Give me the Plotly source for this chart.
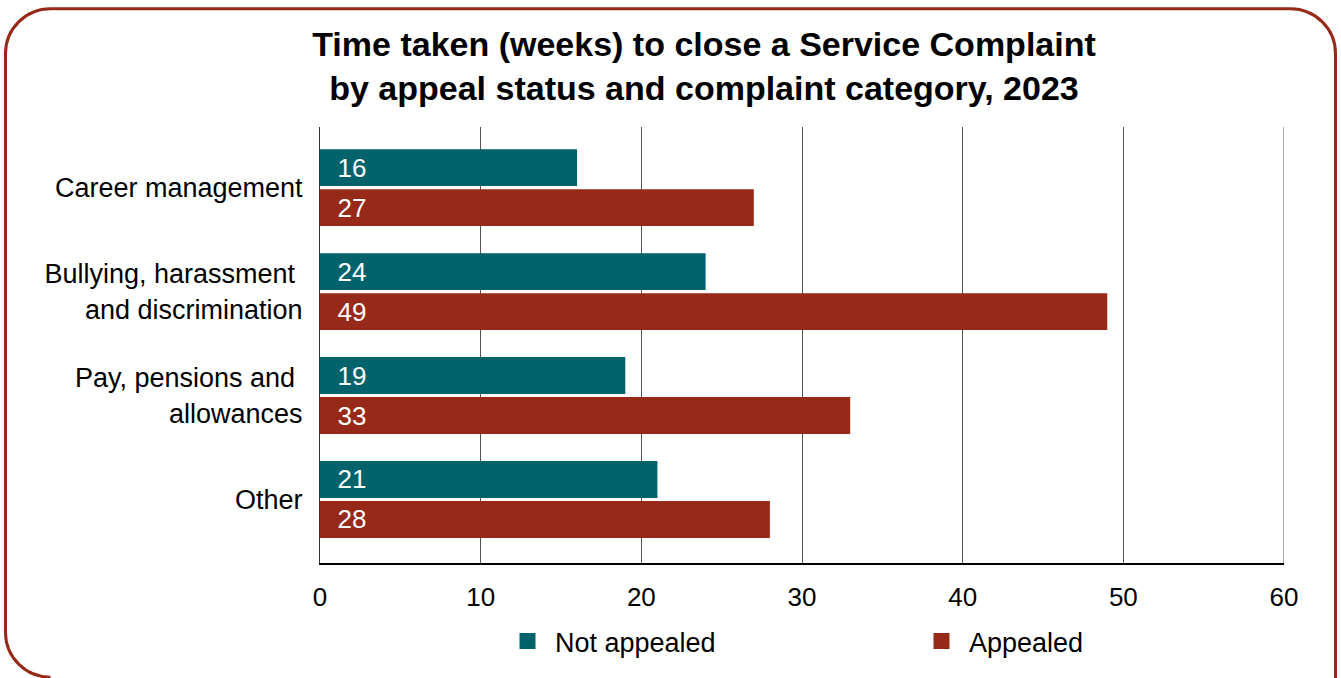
import plotly.graph_objects as go

# Complaint categories (top to bottom) and mean weeks to close
categories = [
    "Career management",
    "Bullying, harassment\u00a0<br>and discrimination",
    "Pay, pensions and\u00a0<br>allowances",
    "Other",
]
not_appealed = [16, 24, 19, 21]
appealed = [27, 49, 33, 28]
x_ticks = [0, 10, 20, 30, 40, 50, 60]

TEAL = "#00636B"
RED = "#962918"
GRID = "#555555"
FONT = "Liberation Sans, Arial, Helvetica, sans-serif"

W, H = 1341, 678
M_L, M_R, M_T, M_B = 320, 57, 127, 112
PW, PH = W - M_L - M_R, H - M_T - M_B


def to_paper(px, py):
    """Convert page pixel coordinates into paper coordinates of the plot area."""
    return (px - M_L) / PW, (H - M_B - py) / PH


def rounded_frame(left, top, right, bottom, r):
    k = 0.5523 * r
    pts = [
        ("M", [(left, top + r)]),
        ("C", [(left, top + r - k), (left + r - k, top), (left + r, top)]),
        ("L", [(right - r, top)]),
        ("C", [(right - r + k, top), (right, top + r - k), (right, top + r)]),
        ("L", [(right, bottom + 30)]),
        ("M", [(left + r, bottom)]),
        ("C", [(left + r - k, bottom), (left, bottom - r + k), (left, bottom - r)]),
        ("L", [(left, top + r)]),
    ]
    out = []
    for cmd, coords in pts:
        s = " ".join("%.5f,%.5f" % to_paper(x, y) for x, y in coords)
        out.append(cmd + s)
    return " ".join(out)


fig = go.Figure()
for name, values, color in [("Not appealed", not_appealed, TEAL), ("Appealed", appealed, RED)]:
    fig.add_trace(go.Bar(
        y=categories, x=values, name=name, orientation="h",
        marker=dict(color=color, line=dict(width=0)),
        text=values, texttemplate="\u00a0\u00a0%{x}",
        textposition="inside", insidetextanchor="start",
        textfont=dict(color="white", size=26, family=FONT),
        showlegend=False, legendgroup=name,
    ))
# legend keys drawn as larger square markers
for name, color in [("Not appealed", TEAL), ("Appealed", RED)]:
    fig.add_trace(go.Scatter(
        x=[None], y=[None], mode="markers", name=name, legendgroup=name,
        marker=dict(symbol="square", size=18, color=color, line=dict(width=0)),
    ))

fig.update_layout(
    width=W, height=H,
    margin=dict(l=M_L, r=M_R, t=M_T, b=M_B),
    paper_bgcolor="white", plot_bgcolor="white",
    font=dict(family=FONT, size=27, color="#111111"),
    barmode="group", bargap=0.23, bargroupgap=0.08,
    title=dict(
        text="<b>Time taken (weeks) to close a Service Complaint<br>by appeal status and complaint category, 2023</b>",
        x=704 / W, xref="container", xanchor="center",
        y=1 - 56 / H, yref="container", yanchor="top",
        font=dict(family=FONT, size=34, color="black"),
    ),
    xaxis=dict(
        range=[0, 60], tickvals=x_ticks, showgrid=True, gridcolor=GRID,
        gridwidth=1, zeroline=False, showline=True, linecolor="black",
        linewidth=1.5, ticks="", ticklabelstandoff=10,
        tickfont=dict(size=26, color="black"),
    ),
    yaxis=dict(
        type="category", categoryorder="array", categoryarray=categories,
        range=[3.611, -0.583], showgrid=False, zeroline=False,
        showline=True, linecolor="#333333", linewidth=1, ticks="",
        ticklabelstandoff=11, tickfont=dict(size=27, color="black"),
    ),
    legend=dict(
        orientation="h", x=(500 - M_L) / PW, xanchor="left",
        y=-(645 - (H - M_B)) / PH, yanchor="middle",
        itemwidth=45, entrywidth=354, entrywidthmode="pixels",
        font=dict(size=27, color="black"), traceorder="normal",
    ),
    showlegend=True,
    shapes=[
        # gridline at the far end of the value axis
        dict(type="line", xref="x", yref="paper", x0=x_ticks[-1], x1=x_ticks[-1],
             y0=0, y1=1, line=dict(color=GRID, width=1), layer="below"),
        # rounded frame around the whole chart
        dict(type="path", xref="paper", yref="paper",
             path=rounded_frame(5.5, 8, 1335.5, 681, 45),
             line=dict(color=RED, width=3), fillcolor="rgba(0,0,0,0)", layer="above"),
    ],
)

fig.write_html("out.html")
